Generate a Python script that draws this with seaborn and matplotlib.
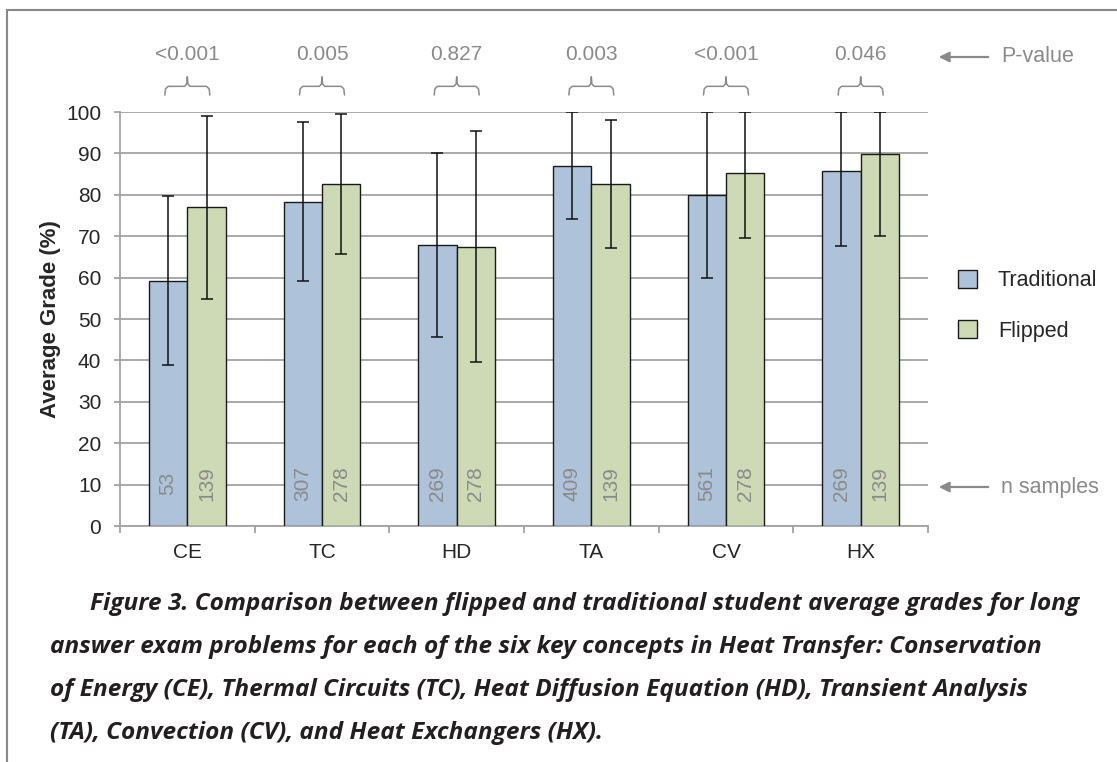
import pandas as pd
import matplotlib.pyplot as plt
import seaborn as sns
from matplotlib.lines import Line2D

# Data
concepts = ['CE', 'TC', 'HD', 'TA', 'CV', 'HX']
trad_mean = [59.2, 78.3, 67.9, 87.0, 80.0, 85.8]
flip_mean = [77.0, 82.5, 67.5, 82.5, 85.3, 89.9]
trad_lo = [38.8, 59.1, 45.7, 74.2, 59.9, 67.7]
trad_hi = [79.6, 97.6, 90.1, 99.9, 100.0, 100.0]
flip_lo = [54.8, 65.7, 39.5, 67.2, 69.6, 70.0]
flip_hi = [99.1, 99.4, 95.3, 98.1, 100.0, 100.0]
n_trad = [53, 307, 269, 409, 561, 269]
n_flip = [139, 278, 278, 139, 278, 139]
p_values = ['<0.001', '0.005', '0.827', '0.003', '<0.001', '0.046']
groups = ['Traditional', 'Flipped']

caption = [
    'Figure 3. Comparison between flipped and traditional student average grades for long',
    'answer exam problems for each of the six key concepts in Heat Transfer: Conservation',
    'of Energy (CE), Thermal Circuits (TC), Heat Diffusion Equation (HD), Transient Analysis',
    '(TA), Convection (CV), and Heat Exchangers (HX).',
]

df = pd.DataFrame({
    'concept': concepts * 2,
    'grade': trad_mean + flip_mean,
    'group': [groups[0]] * 6 + [groups[1]] * 6,
    'lo': trad_lo + flip_lo,
    'hi': trad_hi + flip_hi,
    'n': n_trad + n_flip,
})

sns.set_style('white')
plt.rcParams['font.family'] = ['Liberation Sans', 'DejaVu Sans']

W, H = 1117, 762
fig = plt.figure(figsize=(W / 100, H / 100), dpi=100)
ax = fig.add_axes([120 / W, 1 - 526 / H, 808 / W, 414 / H])

grid_c = '#a3a3a3'
note_c = '#8a8a8a'

sns.barplot(data=df, x='concept', y='grade', hue='group', order=concepts, hue_order=groups,
            palette=['#a7c1e0', '#d0dfaf'], width=0.57, edgecolor='#1a1a1a', linewidth=1.0,
            errorbar=None, ax=ax, zorder=3)

# error bars and n labels, one per bar
bars = ax.patches[:12]
for bar, (_, row) in zip(bars, df.iterrows()):
    cx = bar.get_x() + bar.get_width() / 2
    ax.errorbar(cx, row['grade'], yerr=[[row['grade'] - row['lo']], [row['hi'] - row['grade']]],
                fmt='none', ecolor='#111111', elinewidth=1.1, capsize=4.5, capthick=1.1, zorder=4)
    ax.text(cx, 10.3, str(row['n']), rotation=90, ha='center', va='center',
            fontsize=15, color=note_c, zorder=5)

ax.set_ylim(0, 100)
ax.set_xlim(-0.5, 5.5)
ax.set_yticks(range(0, 101, 10))
ax.yaxis.grid(True, color=grid_c, linewidth=1.3)
ax.set_axisbelow(True)
for s in ['top', 'right']:
    ax.spines[s].set_visible(False)
for s in ['left', 'bottom']:
    ax.spines[s].set_color(grid_c)
    ax.spines[s].set_linewidth(1.3)
ax.tick_params(axis='y', length=4.5, width=1.3, color=grid_c, labelsize=15, pad=9, left=True)
ax.tick_params(axis='x', which='major', length=0, labelsize=15, pad=12)
ax.set_xticks([i - 0.5 for i in range(7)], minor=True)
ax.tick_params(axis='x', which='minor', length=5, width=1.3, color=grid_c, bottom=True)
ax.set_xlabel('')
ax.set_ylabel('Average Grade (%)', fontsize=16, fontweight='bold', labelpad=4)

# p-values with braces
w = 0.167
for i, p in enumerate(p_values):
    ax.text(i, 113.8, p, ha='center', va='center', fontsize=15, color=note_c, clip_on=False)
    bx = [i - w, i - w + 0.005, i - w + 0.025, i - 0.02, i - 0.004, i, i + 0.004, i + 0.02,
          i + w - 0.025, i + w - 0.005, i + w]
    by = [104.1, 105.6, 106.2, 106.2, 106.8, 108.5, 106.8, 106.2, 106.2, 105.6, 104.1]
    ax.plot(bx, by, color=note_c, lw=1.1, clip_on=False)

# side notes
for label, yp in [('P-value', 57), ('n samples', 487)]:
    ax.annotate('', xy=(936 / W, 1 - yp / H), xytext=(991 / W, 1 - yp / H),
                xycoords='figure fraction',
                arrowprops=dict(arrowstyle='-|>', color=note_c, lw=1.6, mutation_scale=15))
    fig.text(1001 / W, 1 - yp / H, label, fontsize=15.5, color=note_c, va='center')

# legend
handles, labels = ax.get_legend_handles_labels()
ax.legend(handles, labels, loc='upper left', bbox_to_anchor=(958 / W, 1 - 270 / H),
          bbox_transform=fig.transFigure, frameon=False, fontsize=15.5, handlelength=0.9,
          handleheight=0.9, handletextpad=0.95, labelspacing=1.35, borderpad=0, borderaxespad=0)

# caption, sized so the first line spans the same width as in the print
cap_y = [604, 647, 690, 733]
cap_x = [90, 50, 50, 50]
cap_kw = dict(fontweight='bold', fontstyle='italic', color='#231f20', va='center',
              family=['Open Sans', 'DejaVu Sans'])
probe = fig.text(0, 0, caption[0], fontsize=16, **cap_kw)
renderer = fig.canvas.get_renderer()
cap_size = 16 * 987 / probe.get_window_extent(renderer).width
probe.remove()
for line, x, y in zip(caption, cap_x, cap_y):
    fig.text(x / W, 1 - y / H, line, fontsize=cap_size, **cap_kw)

# page border
fig.add_artist(Line2D([7 / W, 7 / W], [0, 1 - 10 / H], color='#888888', lw=1.5))
fig.add_artist(Line2D([7 / W, 1], [1 - 10 / H, 1 - 10 / H], color='#888888', lw=1.5))

plt.savefig('out.png', dpi=100)
